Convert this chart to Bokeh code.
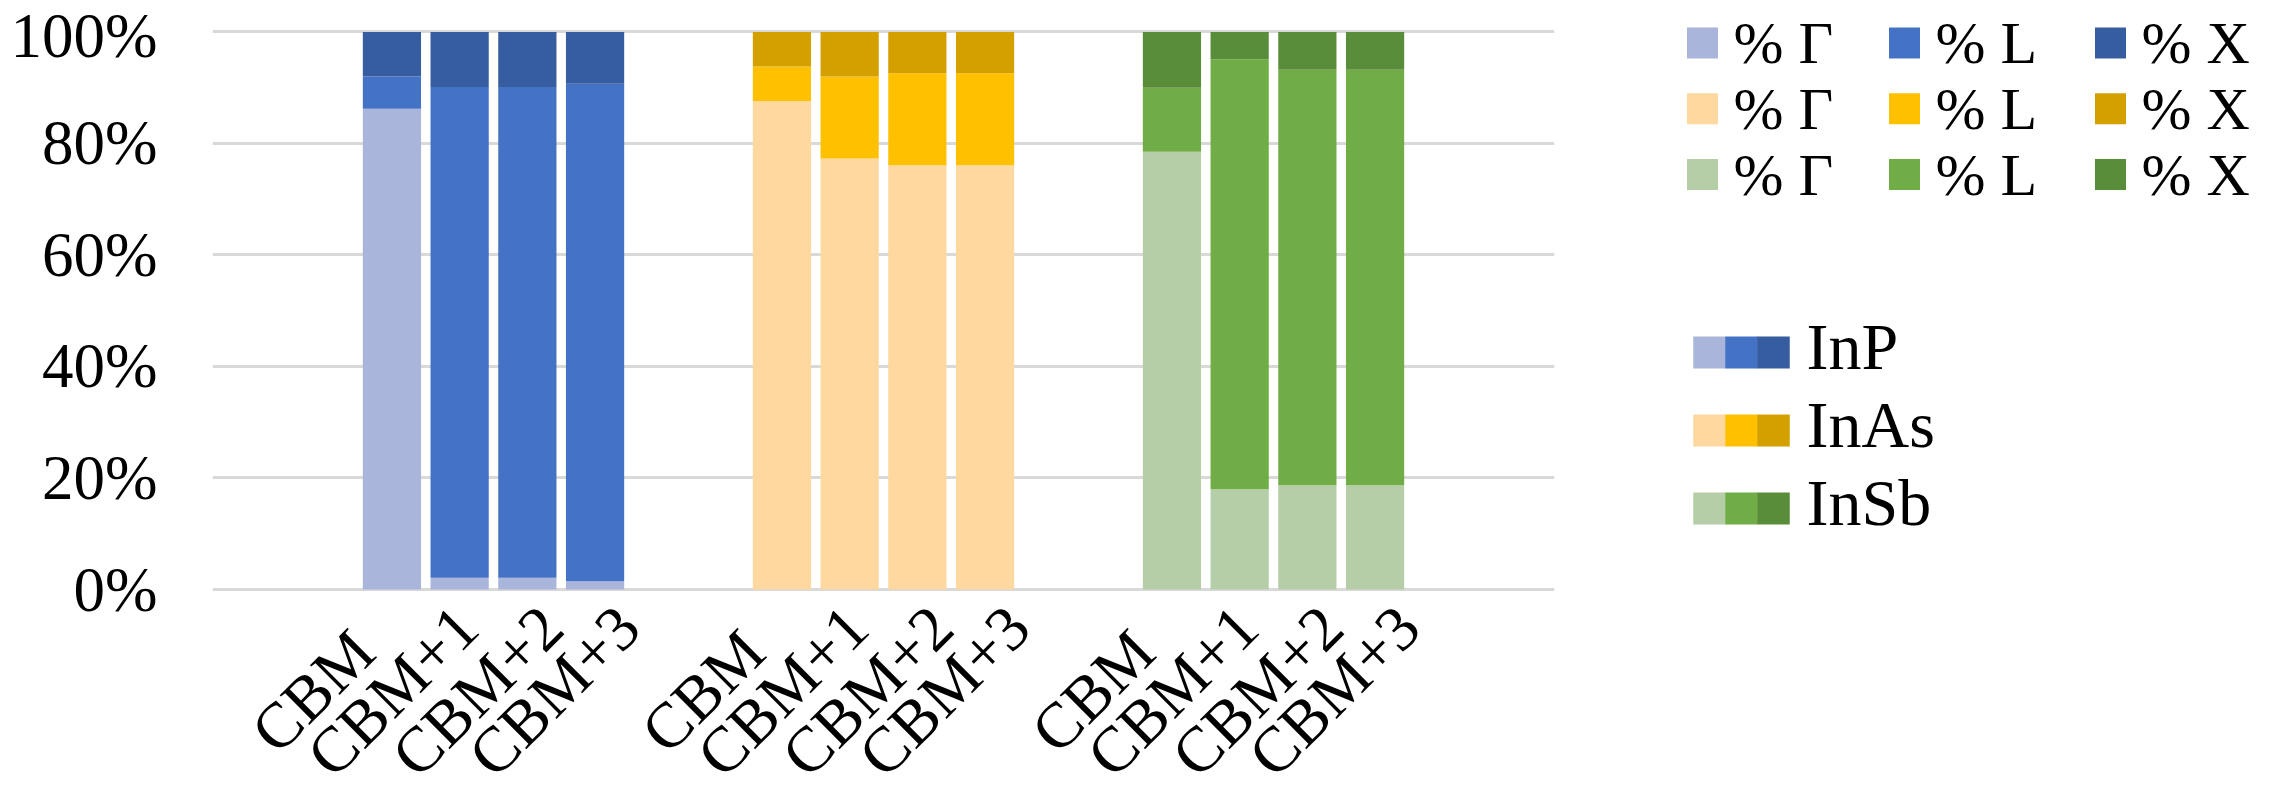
import math
from bokeh.plotting import figure
from bokeh.models import FactorRange, FixedTicker, ColumnDataSource, Range1d
from bokeh.layouts import row
from bokeh.core.properties import value
from bokeh.embed import file_html
from bokeh.resources import INLINE

# ---------------- data ----------------
materials = ["InP", "InAs", "InSb"]
states = ["CBM", "CBM+1", "CBM+2", "CBM+3"]
valleys = ["% Γ", "% L", "% X"]

inp_gamma = [86.2, 2.1, 2.1, 1.5]
inp_L = [5.8, 88.0, 88.0, 89.2]
inp_X = [8.0, 9.9, 9.9, 9.3]

inas_gamma = [87.6, 77.3, 76.1, 76.1]
inas_L = [6.2, 14.7, 16.5, 16.5]
inas_X = [6.2, 8.0, 7.4, 7.4]

insb_gamma = [78.5, 18.0, 18.7, 18.7]
insb_L = [11.5, 77.1, 74.5, 74.5]
insb_X = [10.0, 4.9, 6.8, 6.8]

inp_colors = ["#A9B5DA", "#4472C4", "#365D9F"]
inas_colors = ["#FED89F", "#FFC000", "#D4A000"]
insb_colors = ["#B5CEA7", "#70AD47", "#5A8D3A"]

y_ticks = [0, 20, 40, 60, 80, 100]
y_tick_labels = ["0%", "20%", "40%", "60%", "80%", "100%"]

series = [
    ("InP", inp_gamma, inp_L, inp_X, inp_colors),
    ("InAs", inas_gamma, inas_L, inas_X, inas_colors),
    ("InSb", insb_gamma, insb_L, insb_X, insb_colors),
]

# ---------------- styling / placement (screen px) ----------------
FONT = "Liberation Serif"
label_dx = [-79, -67, -50, -41]   # horizontal shift of rotated category labels per state
LABEL_DROP = 101.5                # label centre below the 0% line, px

W_MAIN, H = 1580, 790
Y0_PX = 589       # 0% line, px from top
Y100_PX = 31.4    # 100% line, px from top
px_per_unit = (Y0_PX - Y100_PX) / 100.0
y_start = -(H - Y0_PX) / px_per_unit
y_end = 100.0 + Y100_PX / px_per_unit

# ---------------- main chart ----------------
factors = [(m, s) for m in materials for s in states]
xr = FactorRange(*factors, group_padding=1.76, factor_padding=0.0,
                 range_padding=2.15, range_padding_units="absolute")

p = figure(x_range=xr, y_range=Range1d(y_start, y_end), width=W_MAIN, height=H,
           output_backend="svg", toolbar_location=None,
           min_border_left=212, min_border_right=W_MAIN - 1554,
           min_border_top=0, min_border_bottom=0)

for name, g, l, x, cols in series:
    src = ColumnDataSource(dict(x=[(name, s) for s in states], g=g, l=l, xx=x))
    p.vbar_stack(["g", "l", "xx"], x="x", width=0.86, color=cols,
                 line_color=None, source=src)

p.outline_line_color = None
p.xgrid.grid_line_color = None
p.ygrid.ticker = FixedTicker(ticks=y_ticks)
p.ygrid.grid_line_color = "#D9D9D9"
p.ygrid.grid_line_width = 3
p.ygrid.level = "underlay"

p.yaxis.ticker = FixedTicker(ticks=y_ticks)
p.yaxis.major_label_overrides = {t: lab for t, lab in zip(y_ticks, y_tick_labels)}
p.yaxis.axis_line_color = None
p.yaxis.major_tick_line_color = None
p.yaxis.minor_tick_line_color = None
p.yaxis.major_tick_out = 0
p.yaxis.major_label_standoff = 55
p.yaxis.major_label_text_font = FONT
p.yaxis.major_label_text_font_size = "63px"
p.yaxis.major_label_text_color = "#000000"

p.xaxis.visible = False

lab_src = ColumnDataSource(dict(
    x=factors,
    y=[-LABEL_DROP / px_per_unit] * len(factors),
    text=[s for m in materials for s in states],
    dx=[label_dx[i] for m in materials for i in range(len(states))],
))
p.text(x="x", y="y", text="text", source=lab_src, x_offset="dx",
       angle=math.pi / 4, text_align="center", text_baseline="middle",
       text_font=value(FONT), text_font_size="64px", text_color="#000000")

# ---------------- legend panel ----------------
W_LEG = 690
q = figure(x_range=Range1d(0, W_LEG), y_range=Range1d(H, 0),
           width=W_LEG, height=H,
           output_backend="svg", toolbar_location=None,
           x_axis_location=None, y_axis_location=None,
           min_border=0)
q.grid.visible = False
q.outline_line_color = None

sq = 31
col_x = [122, 324, 530]
row_y0, row_dy = 42.5, 65.75
sx, sy, sc, tx, ty, tt = [], [], [], [], [], []
for i, (name, g, l, x, cols) in enumerate(series):
    for j, lab in enumerate(valleys):
        sx.append(col_x[j]); sy.append(row_y0 + i * row_dy); sc.append(cols[j])
        tx.append(col_x[j] + 31); ty.append(row_y0 + i * row_dy); tt.append(lab)
q.rect(x=sx, y=sy, width=sq, height=sq, fill_color=sc, line_color=None)
q.text(x=tx, y=ty, text=tt, text_font=value(FONT), text_font_size="60px",
       text_align="left", text_baseline="middle", text_color="#000000")

bx, by, bc, btx, bty, btt = [], [], [], [], [], []
b_x0, b_y0, b_dy = 129, 352, 78
for i, (name, g, l, x, cols) in enumerate(series):
    for j in range(3):
        bx.append(b_x0 + j * 32); by.append(b_y0 + i * b_dy); bc.append(cols[j])
    btx.append(226); bty.append(b_y0 + i * b_dy - 6); btt.append(name)
q.rect(x=bx, y=by, width=32.5, height=32, fill_color=bc, line_color=None)
q.text(x=btx, y=bty, text=btt, text_font=value(FONT), text_font_size="66px",
       text_align="left", text_baseline="middle", text_color="#000000")

layout = row(p, q)
open("out.html", "w").write(file_html(layout, INLINE))
